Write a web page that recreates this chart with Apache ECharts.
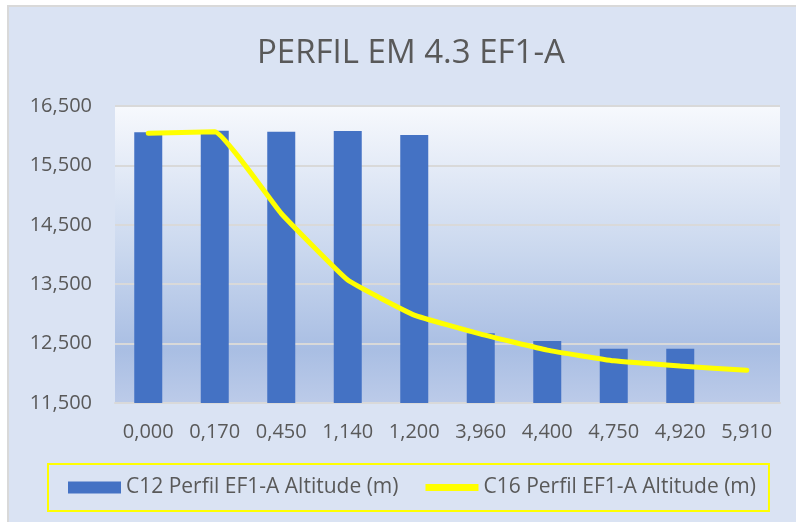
<!DOCTYPE html>
<html>
<head>
<meta charset="utf-8">
<script src="https://cdn.jsdelivr.net/npm/echarts@6/dist/echarts.min.js"></script>
<style>
  html, body { margin: 0; padding: 0; background: #ffffff; }
  #bg { position: absolute; left: 7px; top: 5px; width: 789px; height: 517px; box-sizing: border-box;
        border-left: 2px solid #d9d9d9; border-top: 2px solid #d9d9d9; background: #dae3f3; }
  #chart { position: absolute; left: 0; top: 0; width: 796px; height: 522px; }
</style>
</head>
<body>
<div id="bg"></div>
<div id="chart"></div>
<script>
const titleText = 'PERFIL EM 4.3 EF1-A';
const categories = ['0,000', '0,170', '0,450', '1,140', '1,200', '3,960', '4,400', '4,750', '4,920', '5,910'];
const barName = 'C12 Perfil EF1-A Altitude (m)';
const lineName = 'C16 Perfil EF1-A Altitude (m)';
const barValues = [16057, 16084, 16067, 16079, 16012, 12673, 12544, 12415, 12415, null];
const lineValues = [16040, 16067, 14690, 13570, 12980, 12660, 12390, 12210, 12123, 12050];
const yMin = 11500, yMax = 16500, yStep = 500;

function fmt(v) {
  const r = Math.round(v);
  const th = Math.floor(r / 1000);
  const rest = String(r % 1000).padStart(3, '0');
  return th + ',' + rest;
}

const chart = echarts.init(document.getElementById('chart'), null, { renderer: 'canvas' });
const font = '"Open Sans", "Liberation Sans", sans-serif';
chart.setOption({
  animation: false,
  textStyle: { fontFamily: font },
  title: {
    text: titleText, left: 252, top: 32,
    textStyle: { fontFamily: font, fontSize: 33, fontWeight: 'normal', color: '#595959' }
  },
  grid: {
    left: 115, right: 16, top: 106, bottom: 119,
    show: true, borderWidth: 0,
    backgroundColor: new echarts.graphic.LinearGradient(0, 0, 0, 1, [
      { offset: 0, color: '#f7f9fd' },
      { offset: 0.5, color: '#c9d7ee' },
      { offset: 0.82, color: '#a9bee3' },
      { offset: 1, color: '#bccbe9' }
    ])
  },
  legend: {
    left: 48, top: 464,
    padding: [13, 13, 13, 20],
    borderColor: '#ffff00', borderWidth: 2,
    itemWidth: 53, itemHeight: 12, itemGap: 27,
    textStyle: { fontFamily: font, fontSize: 21, color: '#595959' },
    data: [
      { name: barName, icon: 'rect' },
      { name: lineName, icon: 'path://M0,0 L53,0 L53,7 L0,7 Z' }
    ]
  },
  xAxis: {
    type: 'category', data: categories,
    axisLine: { lineStyle: { color: '#d9d9d9', width: 2 } },
    axisTick: { show: false },
    axisLabel: { fontFamily: font, fontSize: 20, color: '#595959', margin: 19 }
  },
  yAxis: {
    type: 'value', min: yMin, max: yMax, interval: yStep,
    axisLine: { show: false }, axisTick: { show: false },
    axisLabel: {
      fontFamily: font, fontSize: 20, color: '#595959', margin: 23,
      formatter: function (v) { return ((Math.round(v) - yMin) % 1000 === 0) ? fmt(v) : ''; }
    },
    splitLine: { lineStyle: { color: ['#d9d9d9', 'rgba(0,0,0,0)'], width: 2 } }
  },
  series: [
    {
      name: barName, type: 'bar', data: barValues, barWidth: 28,
      itemStyle: { color: '#4472c4' }
    },
    {
      name: lineName, type: 'line', data: lineValues, smooth: 0.1,
      symbol: 'none', lineStyle: { color: '#ffff00', width: 5, cap: 'round' },
      itemStyle: { color: '#ffff00' }
    }
  ]
});
</script>
</body>
</html>
